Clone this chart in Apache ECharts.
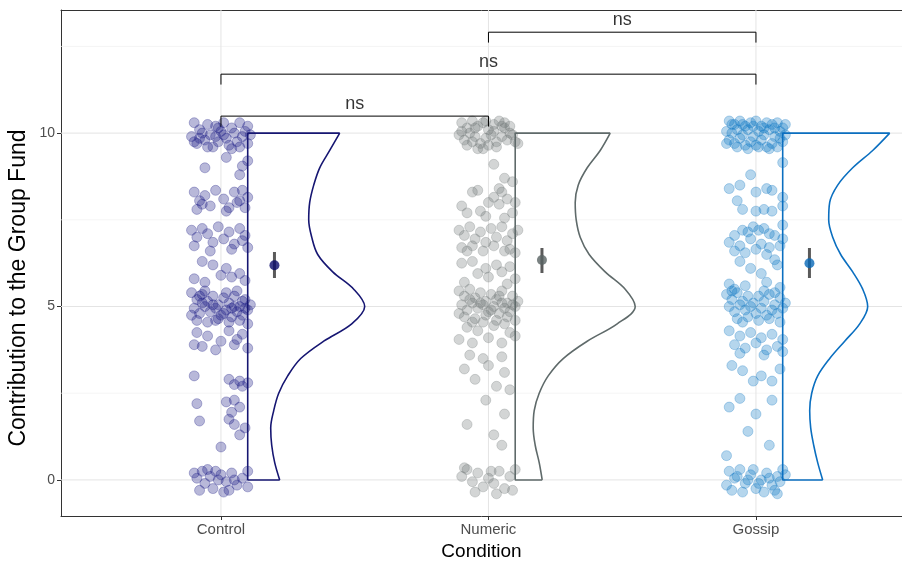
<!DOCTYPE html>
<html>
<head>
<meta charset="utf-8">
<script src="https://cdn.jsdelivr.net/npm/echarts@6/dist/echarts.min.js"></script>
<style>html,body{margin:0;padding:0;background:#fff}#c{width:902px;height:562px}</style>
</head>
<body>
<div id="c"></div>
<script>
// ---------- DATA ----------
const categories = ['Control', 'Numeric', 'Gossip'];
const yTickValues = [0, 5, 10];
const yMinorValues = [2.5, 7.5, 12.5];
const xTitle = 'Condition';
const yTitle = 'Contribution to the Group Fund';

// jittered raw points: [x-jitter, contribution]
const controlPoints = [
[-0.10,10.3],[-0.08,10.1],[-0.05,10.25],[-0.02,10.2],[0.01,10.3],[0.04,10.15],[0.07,10.3],[0.10,10.2],[-0.11,9.9],[-0.09,9.7],[-0.06,9.8],[-0.04,9.95],[-0.01,9.75],[0.02,9.85],[0.05,10.0],[0.08,9.9],[0.10,9.7],[-0.07,10.0],[-0.03,9.6],[0.00,10.05],[0.03,9.65],[0.06,9.75],[0.09,10.05],[-0.10,9.75],[-0.02,9.9],[0.04,9.55],[-0.08,9.85],[0.01,9.95],[0.07,9.6],[-0.05,9.6],[0.11,9.95],[-0.01,10.15],
[0.02,9.3],[-0.06,9.0],[0.08,9.05],[0.07,8.8],[0.10,9.2],
[-0.10,8.3],[-0.08,8.05],[-0.06,8.2],[-0.09,7.8],[-0.04,7.9],[-0.02,8.35],[0.01,8.1],[0.03,7.85],[0.05,8.3],[0.06,8.0],[0.08,8.35],[0.10,8.15],[0.09,7.85],[-0.07,7.95],[0.02,7.75],[0.07,8.05],
[-0.11,7.2],[-0.09,7.0],[-0.07,7.25],[-0.05,7.1],[-0.03,6.85],[-0.01,7.3],[0.01,6.95],[0.03,7.15],[0.05,6.8],[0.07,7.25],[0.09,7.05],[0.10,6.7],[-0.10,6.75],[-0.04,6.6],[0.04,6.65],[0.08,6.9],
[-0.07,6.3],[-0.03,6.2],[0.02,6.1],[0.07,5.95],[-0.10,5.8],[0.04,5.85],[-0.06,5.7],[0.09,5.75],[0.00,5.9],
[-0.11,5.4],[-0.09,5.2],[-0.07,5.35],[-0.05,5.15],[-0.03,5.3],[-0.01,5.05],[0.01,5.25],[0.03,5.1],[0.05,5.3],[0.07,5.0],[0.09,5.2],[0.11,5.05],[-0.10,4.95],[-0.08,4.8],[-0.06,5.0],[-0.04,4.85],[-0.02,4.95],[0.00,4.75],[0.02,4.9],[0.04,4.7],[0.06,4.85],[0.08,4.75],[0.10,4.9],[-0.09,4.6],[-0.05,4.55],[-0.01,4.65],[0.03,4.55],[0.07,4.6],[0.10,4.5],[-0.07,5.1],[-0.03,5.05],[0.01,4.8],[0.05,5.0],[0.09,4.95],[-0.11,4.75],[0.02,5.4],[-0.06,5.45],[0.06,5.45],[-0.02,4.6],[0.08,5.15],[-0.08,5.3],[0.04,4.95],
[-0.09,4.25],[-0.05,4.15],[0.03,4.3],[0.08,4.2],[-0.10,3.9],[-0.07,3.85],[0.00,4.0],[0.05,3.9],[0.10,3.8],[-0.02,3.75],[0.06,4.05],
[-0.10,3.0],[0.03,2.9],[0.05,2.75],[0.08,2.7],[0.10,2.8],[0.07,2.85],
[-0.09,2.2],[0.02,2.25],[0.07,2.1],[0.05,2.3],[0.04,1.95],[0.03,1.75],[0.05,1.6],[0.09,1.5],[-0.08,1.7],[0.07,1.3],
[0.00,0.95],
[-0.10,0.2],[-0.09,0.05],[-0.07,0.25],[-0.06,-0.1],[-0.04,0.1],[-0.03,-0.25],[-0.01,0.0],[0.00,0.15],[0.02,-0.05],[0.03,-0.3],[0.04,0.2],[0.06,-0.15],[0.08,0.05],[0.10,0.25],[0.10,-0.2],[-0.08,-0.3],[-0.05,0.3],[0.01,-0.35],[0.05,0.0],[-0.02,0.25]
];
const numericPoints = [
[-0.10,10.3],[-0.08,10.15],[-0.06,10.35],[-0.04,10.2],[-0.02,10.3],[0.00,10.1],[0.02,10.25],[0.04,10.35],[0.06,10.15],[0.08,10.0],[-0.11,9.95],[-0.09,9.8],[-0.07,10.0],[-0.05,9.9],[-0.03,9.7],[-0.01,9.85],[0.01,9.95],[0.03,9.75],[0.05,9.9],[0.07,9.8],[0.09,9.95],[-0.08,9.65],[-0.04,9.55],[0.00,9.65],[0.03,9.6],[0.06,10.3],[-0.06,9.75],[0.02,10.05],[-0.02,9.55],[0.10,9.75],[-0.10,10.05],[0.05,10.2],[-0.01,10.35],[0.08,10.2],[-0.05,10.15],[0.11,9.7],
[0.02,9.1],[0.06,8.7],[0.09,8.6],
[-0.10,7.9],[-0.06,8.3],[-0.04,8.35],[0.04,8.4],[0.05,8.3],[-0.03,7.75],[0.00,8.0],[0.02,8.15],[0.04,7.95],[0.07,8.1],[0.09,7.7],[0.10,8.0],[-0.08,7.7],[0.06,7.55],[-0.01,7.6],
[-0.11,7.2],[-0.09,7.05],[-0.07,7.3],[-0.05,6.95],[-0.03,7.15],[-0.01,6.85],[0.01,7.25],[0.03,7.0],[0.05,7.3],[0.07,6.9],[0.09,7.1],[0.11,7.2],[-0.10,6.7],[-0.06,6.75],[-0.02,6.6],[0.02,6.75],[0.06,6.6],[0.08,6.65],[0.10,6.55],[-0.08,6.6],
[-0.10,6.25],[-0.06,6.3],[0.03,6.2],[0.08,6.15],[-0.04,5.95],[0.00,5.85],[0.05,6.0],[0.10,5.8],[-0.09,5.7],[0.07,5.65],[-0.01,6.1],
[-0.11,5.45],[-0.09,5.3],[-0.07,5.5],[-0.05,5.25],[-0.03,5.4],[-0.01,5.15],[0.01,5.35],[0.03,5.2],[0.05,5.45],[0.07,5.1],[0.09,5.3],[0.11,5.15],[-0.10,5.05],[-0.08,4.9],[-0.06,5.1],[-0.04,4.95],[-0.02,5.05],[0.00,4.85],[0.02,5.0],[0.04,4.8],[0.06,4.95],[0.08,4.85],[0.10,5.0],[-0.09,4.7],[-0.05,4.65],[-0.01,4.75],[0.03,4.6],[0.07,4.7],[0.10,4.6],[-0.07,5.2],[-0.03,5.1],[0.01,4.9],[0.05,5.1],[0.09,5.05],[-0.11,4.8],[-0.02,4.55],[0.06,4.5],[0.04,5.3],[-0.06,4.55],
[-0.08,4.4],[-0.04,4.3],[0.02,4.45],[0.08,4.25],[-0.11,4.05],[-0.06,3.95],[0.00,4.1],[0.05,3.95],[0.10,4.15],
[-0.07,3.6],[-0.02,3.5],[0.05,3.55],[-0.09,3.2],[0.00,3.3],[0.06,3.1],[-0.05,2.9],[0.03,2.7],[0.08,2.6],
[-0.01,2.3],[0.06,1.9],[-0.08,1.6],[0.02,1.3],[0.05,1.0],
[-0.10,0.1],[-0.08,0.3],[-0.06,-0.05],[-0.04,0.2],[-0.02,-0.2],[0.00,0.05],[0.02,-0.1],[0.04,0.25],[0.06,-0.25],[0.08,0.1],[0.10,0.3],[-0.05,-0.35],[0.03,-0.4],[0.09,-0.3],[-0.09,0.35],[0.01,0.25]
];
const gossipPoints = [
[-0.10,10.35],[-0.08,10.25],[-0.06,10.35],[-0.04,10.2],[-0.02,10.3],[0.00,10.35],[0.02,10.2],[0.04,10.3],[0.06,10.25],[0.08,10.3],[0.10,10.15],[-0.11,10.05],[-0.09,10.0],[-0.07,10.1],[-0.05,9.95],[-0.03,10.1],[-0.01,9.9],[0.01,10.05],[0.03,9.95],[0.05,10.1],[0.07,9.9],[0.09,10.05],[0.11,9.95],[-0.10,9.8],[-0.08,9.7],[-0.06,9.85],[-0.04,9.65],[-0.02,9.75],[0.00,9.65],[0.02,9.8],[0.04,9.6],[0.06,9.7],[0.08,9.6],[0.10,9.75],[-0.07,9.6],[-0.03,9.55],[0.01,9.6],[0.05,9.55],[0.09,9.85],[-0.11,9.7],[-0.05,10.25],[0.03,10.15],[0.07,10.15],[-0.01,10.2],[0.11,10.25],[-0.09,10.25],
[0.10,9.15],[-0.02,8.8],
[-0.10,8.4],[-0.06,8.5],[0.04,8.4],[0.06,8.35],[-0.07,8.05],[0.00,8.3],[-0.05,7.8],[0.00,7.75],[0.03,7.8],[0.06,7.75],[0.10,7.9],[0.10,8.15],
[-0.08,7.05],[-0.05,7.2],[-0.03,7.15],[-0.01,7.3],[0.01,7.2],[0.03,7.25],[0.05,7.1],[0.07,7.05],[0.10,7.35],[-0.10,6.85],[-0.06,6.75],[-0.02,6.95],[0.02,6.8],[0.05,6.7],[0.09,6.75],[0.10,6.95],[-0.08,6.6],[-0.04,6.55],[0.00,6.65],[0.04,6.5],[0.07,6.35],[-0.06,6.3],[0.08,6.2],[-0.02,6.1],[0.02,5.95],
[-0.10,5.65],[-0.08,5.5],[-0.04,5.6],[0.04,5.7],[0.09,5.55],
[-0.11,5.35],[-0.09,5.2],[-0.07,5.4],[-0.05,5.15],[-0.03,5.3],[-0.01,5.1],[0.01,5.3],[0.03,5.15],[0.05,5.35],[0.07,5.05],[0.09,5.25],[0.11,5.1],[-0.10,5.0],[-0.08,4.85],[-0.06,5.05],[-0.04,4.9],[-0.02,5.0],[0.00,4.8],[0.02,4.95],[0.04,4.75],[0.06,4.9],[0.08,4.8],[0.10,4.95],[-0.07,4.65],[-0.03,4.7],[0.01,4.6],[0.05,4.65],[0.09,4.55],[-0.09,5.45],[0.03,5.45],[-0.05,4.55],[0.07,5.4],
[-0.10,4.3],[-0.06,4.15],[-0.02,4.25],[0.02,4.1],[0.06,4.2],[0.10,4.05],[-0.08,3.9],[-0.04,3.8],[0.00,3.95],[0.04,3.75],[0.08,3.85],[-0.06,3.65],[0.03,3.6],[0.10,3.7],
[-0.09,3.3],[-0.05,3.15],[0.02,3.0],[0.06,2.85],[0.09,3.2],[-0.01,2.85],
[-0.06,2.35],[0.06,2.3],[-0.10,2.1],[0.00,1.9],[-0.03,1.4],[0.05,1.0],
[-0.11,0.7],
[-0.10,0.25],[-0.08,0.05],[-0.06,0.3],[-0.04,-0.1],[-0.02,0.15],[0.00,-0.25],[0.02,0.0],[0.04,0.2],[0.06,-0.15],[0.08,0.1],[0.10,0.3],[-0.09,-0.3],[-0.05,-0.35],[-0.01,0.3],[0.03,-0.35],[0.07,-0.3],[0.09,-0.05],[-0.07,0.1],[0.01,-0.1],[0.05,0.05],[0.11,0.15],[-0.11,-0.15],[-0.03,0.0],[0.08,-0.4]
];

// half-violin density (relative widths) at these contribution levels
const densityLevels = [0,0.5,1,1.5,2,2.5,3,3.5,4,4.5,5,5.5,6,6.5,7,7.5,8,8.5,9,9.5,10];
const controlDensity = [32,27,24,23,26,31,40,53,76,104,117,106,85,70,64,61,62,66,72,82,92];
const numericDensity = [27,24,20,18,19,24,33,48,72,102,120,110,90,74,65,61,60,63,72,85,95];
const gossipDensity  = [40,35,31,28,27,29,35,47,62,77,85,80,70,58,50,46,47,55,70,90,107];

// means and 95% CI
const means  = [6.19, 6.34, 6.25];
const ciLow  = [5.82, 5.97, 5.82];
const ciHigh = [6.57, 6.69, 6.69];

// significance comparisons: [from, to, height]
const comparisons = [[1, 2, 10.49], [1, 3, 11.70], [2, 3, 12.91]];
const compLabels = ['ns', 'ns', 'ns'];

// ---------- STYLE ----------
const lineColors  = ['#161672', '#5f6a6a', '#0b6fc0'];
const pointColors = ['rgba(22,22,130,0.38)', 'rgba(110,118,118,0.38)', 'rgba(0,112,192,0.36)'];
const pointBorder = ['rgba(22,22,130,0.45)', 'rgba(110,118,118,0.42)', 'rgba(0,112,192,0.42)'];
const meanColors  = ['#0b0b6b', '#596363', '#0768b6'];
const xMin = 0.402, xMax = 3.546, yMin = -1.04, yMax = 13.55;
const violinOffset = 0.1, violinScale = 1 / 267.5, meanOffset = 0.2;
const FONT = '"Liberation Sans", Arial, sans-serif';

const series = [];
// grid lines
yTickValues.forEach(v => series.push({type:'line', data:[[xMin,v],[xMax,v]], symbol:'none', silent:true, z:1, lineStyle:{color:'#e4e4e4', width:1}}));
yMinorValues.forEach(v => series.push({type:'line', data:[[xMin,v],[xMax,v]], symbol:'none', silent:true, z:1, lineStyle:{color:'#f0f0f0', width:0.7}}));
[1,2,3].forEach(v => series.push({type:'line', data:[[v,yMin],[v,yMax]], symbol:'none', silent:true, z:1, lineStyle:{color:'#e4e4e4', width:1}}));

const allPoints = [controlPoints, numericPoints, gossipPoints];
const allDensity = [controlDensity, numericDensity, gossipDensity];
allPoints.forEach((pts, i) => {
  series.push({type:'scatter', data: pts.map(p => [i + 1 + p[0], p[1]]), symbolSize: 10, z: 3,
    itemStyle: {color: pointColors[i], borderColor: pointBorder[i], borderWidth: 0.8}});
});
allDensity.forEach((d, i) => {
  const x0 = i + 1 + violinOffset;
  const n = densityLevels.length;
  series.push({type:'line', symbol:'none', z:4, smooth:0.35,
    data: densityLevels.map((y, k) => [x0 + d[k] * violinScale, y]),
    lineStyle:{color: lineColors[i], width: 1.6}});
  series.push({type:'line', symbol:'none', z:4,
    data: [[x0 + d[0] * violinScale, densityLevels[0]], [x0, densityLevels[0]], [x0, densityLevels[n-1]], [x0 + d[n-1] * violinScale, densityLevels[n-1]]],
    lineStyle:{color: lineColors[i], width: 1.6}});
});
means.forEach((m, i) => {
  const x = i + 1 + meanOffset;
  series.push({type:'line', symbol:'none', z:5, data:[[x, ciLow[i]], [x, ciHigh[i]]], lineStyle:{color:'#5a5a5a', width:3}});
  series.push({type:'scatter', z:6, data:[[x, m]], symbolSize: 10, itemStyle:{color: meanColors[i]}});
});
comparisons.forEach((c, k) => {
  const tip = 0.3;
  series.push({type:'line', symbol:'none', z:5, data:[[c[0], c[2]-tip], [c[0], c[2]], [c[1], c[2]], [c[1], c[2]-tip]], lineStyle:{color:'#000', width:1}});
  series.push({type:'scatter', z:6, symbolSize:0, data:[[(c[0]+c[1])/2, c[2]]],
    label:{show:true, position:'top', distance:3, formatter: compLabels[k], color:'#000', fontSize:18, fontFamily:FONT}});
});

const chart = echarts.init(document.getElementById('c'), null, {renderer:'canvas'});
chart.setOption({
  animation: false,
  grid: {left: 61, right: 0, top: 10, bottom: 46, show: false, containLabel: false, outerBoundsMode: 'none'},
  graphic: [{
    type: 'text', x: 19, y: 288, rotation: Math.PI / 2, silent: true,
    style: {text: yTitle, fill: '#000', font: '23px ' + FONT, align: 'center', verticalAlign: 'middle', textAlign: 'center', textVerticalAlign: 'middle'}
  }],
  xAxis: [{
    type:'value', min:xMin, max:xMax, position:'bottom',
    name: xTitle, nameLocation:'middle', nameGap:26,
    nameTextStyle:{color:'#000', fontSize:19, fontFamily:FONT},
    axisLine:{show:true, onZero:false, lineStyle:{color:'#333', width:1}},
    axisTick:{show:true, length:4, customValues:[1,2,3], lineStyle:{color:'#333'}},
    axisLabel:{customValues:[1,2,3], formatter: v => categories[Math.round(v)-1] || '', color:'#4d4d4d', fontSize:15, fontFamily:FONT, margin:6},
    splitLine:{show:false}
  }, {
    type:'value', min:xMin, max:xMax, position:'top',
    axisLine:{show:true, onZero:false, lineStyle:{color:'#333', width:1}},
    axisTick:{show:false}, axisLabel:{show:false}, splitLine:{show:false}
  }],
  yAxis: {
    type:'value', min:yMin, max:yMax,
    axisLine:{show:true, onZero:false, lineStyle:{color:'#333', width:1}},
    axisTick:{show:true, length:4, customValues:yTickValues, lineStyle:{color:'#333'}},
    axisLabel:{customValues:yTickValues, color:'#4d4d4d', fontSize:14, fontFamily:FONT, margin:6},
    splitLine:{show:false}
  },
  series: series
});
</script>
</body>
</html>
